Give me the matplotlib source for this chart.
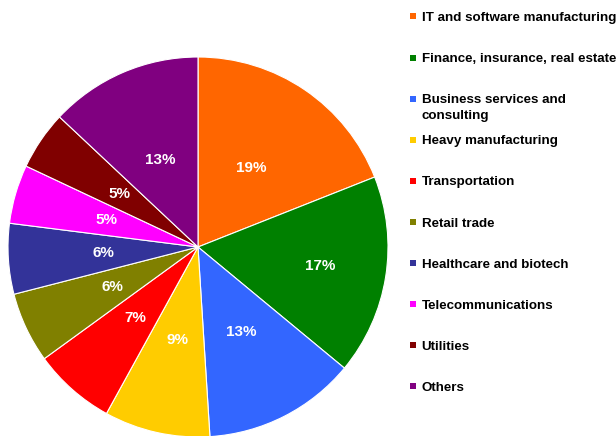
import matplotlib.pyplot as plt
from matplotlib.patches import Rectangle

plt.rcParams['font.family'] = ['Liberation Sans', 'DejaVu Sans']

# data
sectors = ['IT and software manufacturing', 'Finance, insurance, real estate',
           'Business services and\nconsulting', 'Heavy manufacturing',
           'Transportation', 'Retail trade', 'Healthcare and biotech',
           'Telecommunications', 'Utilities', 'Others']
shares = [19, 17, 13, 9, 7, 6, 6, 5, 5, 13]
colors = ['#FF6600', '#008000', '#3366FF', '#FFCC00', '#FF0000',
          '#808000', '#333399', '#FF00FF', '#800000', '#800080']

W, H = 616, 436
fig = plt.figure(figsize=(W / 100, H / 100), dpi=100)

# pie axes: center (198,247), radius 190 px
ax = fig.add_axes([8 / W, (H - 437) / H, 380 / W, 380 / H])
wedges, texts, autotexts = ax.pie(
    shares, colors=colors, startangle=90, counterclock=False,
    autopct='%d%%', pctdistance=0.5,
    wedgeprops=dict(edgecolor='white', linewidth=0.8),
    textprops=dict(color='white', fontsize=11, fontweight='bold'))
ax.set_xlim(-1, 1)
ax.set_ylim(-1, 1)
ax.set_aspect('equal')

# finance label sits further out
x, y = autotexts[1].get_position()
autotexts[1].set_position((x * 1.3, y * 1.3))

# legend drawn by hand, fixed slots
for i, (lab, c) in enumerate(zip(sectors, colors)):
    yc = 16.5 + 41.1 * i
    fig.patches.append(Rectangle((410 / W, 1 - (yc + 3) / H), 6 / W, 6 / H,
                                 transform=fig.transFigure, facecolor=c,
                                 edgecolor='none'))
    fig.text(421.5 / W, 1 - (yc - 4.5) / H, lab, fontsize=9.6, fontweight='bold',
             va='top', ha='left', color='black', linespacing=1.4)

fig.savefig('out.png', dpi=100)
